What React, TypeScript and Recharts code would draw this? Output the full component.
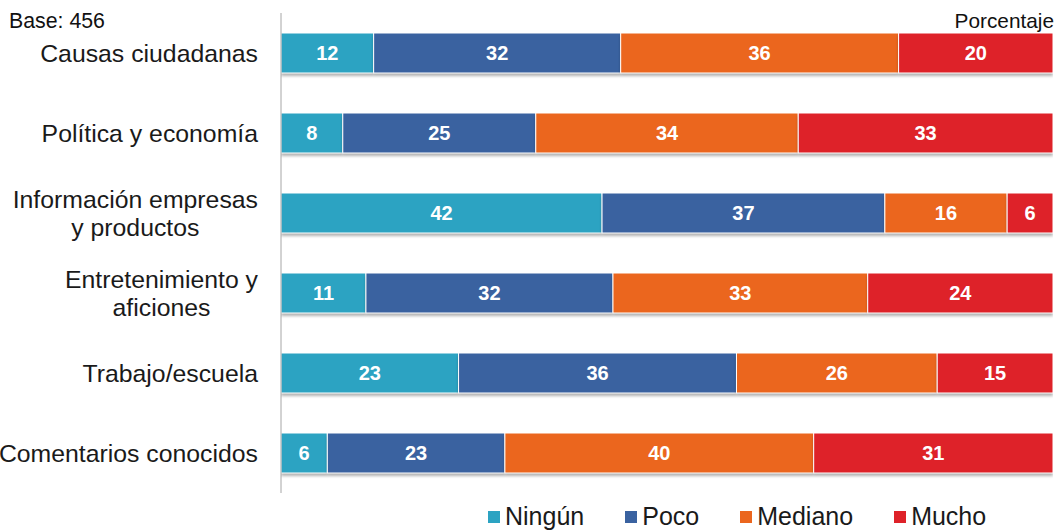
import React from 'react';
import { BarChart, Bar, XAxis, YAxis, LabelList, Legend } from 'recharts';

const categories = [
  'Causas ciudadanas',
  'Política y economía',
  'Información empresas\ny productos',
  'Entretenimiento y\naficiones',
  'Trabajo/escuela',
  'Comentarios conocidos',
];
const ningun = [12, 8, 42, 11, 23, 6];
const poco = [32, 25, 37, 32, 36, 23];
const mediano = [36, 34, 16, 33, 26, 40];
const mucho = [20, 33, 6, 24, 15, 31];

const seriesNames = ['Ningún', 'Poco', 'Mediano', 'Mucho'];
const seriesKeys = ['ningun', 'poco', 'mediano', 'mucho'];
const seriesColors = ['#2CA3C2', '#3A62A0', '#EB661E', '#DE2229'];
const seriesValues = [ningun, poco, mediano, mucho];

// Each row is scaled to 100 % for the bar length; the raw value is kept for the label.
const data = categories.map((c, i) => {
  const total = seriesValues.reduce((s, arr) => s + arr[i], 0);
  const row: Record<string, any> = { cat: c };
  seriesKeys.forEach((k, j) => {
    row[k] = (seriesValues[j][i] / total) * 100;
    row[k + 'Raw'] = seriesValues[j][i];
  });
  return row;
});

const FONT = '"Liberation Sans", Arial, Helvetica, sans-serif';
const CAT_SIZE = 24.8;

let ctx: CanvasRenderingContext2D | null = null;
const measure = (t: string) => {
  if (!ctx) ctx = document.createElement('canvas').getContext('2d');
  if (!ctx) return t.length * CAT_SIZE * 0.5;
  ctx.font = `${CAT_SIZE}px "Liberation Sans"`;
  return ctx.measureText(t).width;
};

const CatTick = (props: any) => {
  const { x, y, payload } = props;
  const lines = String(payload.value).split('\n');
  if (lines.length === 1) {
    return (
      <text x={x} y={y} dy="0.35em" textAnchor="end" fontSize={CAT_SIZE} fontFamily={FONT} fill="#1a1a1a">
        {lines[0]}
      </text>
    );
  }
  const maxW = Math.max(...lines.map((l) => measure(l)));
  const cx = x - maxW / 2;
  const lh = 28;
  return (
    <text textAnchor="middle" fontSize={CAT_SIZE} fontFamily={FONT} fill="#1a1a1a">
      {lines.map((l, i) => (
        <tspan key={i} x={cx} y={y + (i - (lines.length - 1) / 2) * lh} dy="0.35em">
          {l}
        </tspan>
      ))}
    </text>
  );
};

const BarShape = (props: any) => {
  const { x, y, width, height, fill } = props;
  if (width == null || !(width > 0)) return null;
  return (
    <g>
      <rect x={x} y={y + 3} width={width} height={height} fill="#000" opacity={0.3} filter="url(#barBlur)" />
      <rect x={x} y={y} width={width} height={height} fill={fill} stroke="#ffffff" strokeWidth={1} />
    </g>
  );
};

const LegendContent = () => (
  <div style={{ display: 'flex', alignItems: 'center', fontFamily: FONT, fontSize: 25, color: '#1a1a1a', whiteSpace: 'nowrap' }}>
    {seriesNames.map((n, i) => (
      <div key={n} style={{ display: 'flex', alignItems: 'center', marginRight: i < seriesNames.length - 1 ? 41 : 0 }}>
        <span style={{ display: 'inline-block', width: 12, height: 12, background: seriesColors[i], marginRight: 5 }} />
        <span>{n}</span>
      </div>
    ))}
  </div>
);

export default function App() {
  return (
    <div style={{ position: 'absolute', left: 0, top: 0, width: 1057, height: 531, background: '#fff' }}>
      <div style={{ position: 'absolute', left: 9, top: 9, fontFamily: FONT, fontSize: 21.3, color: '#111', lineHeight: '24px' }}>Base: 456</div>
      <div style={{ position: 'absolute', right: 3, top: 9, fontFamily: FONT, fontSize: 20.8, color: '#111', lineHeight: '24px' }}>Porcentaje</div>
      <BarChart
        width={1057}
        height={531}
        data={data}
        layout="vertical"
        barCategoryGap={20}
        margin={{ top: 13, right: 4, bottom: 38, left: 0 }}
      >
        <defs>
          <filter id="barBlur" x="-5%" y="-50%" width="110%" height="200%">
            <feGaussianBlur stdDeviation="1.5" />
          </filter>
        </defs>
        <XAxis type="number" hide domain={[0, 100]} allowDataOverflow />
        <YAxis
          type="category"
          dataKey="cat"
          width={281}
          tickLine={false}
          tickMargin={17}
          axisLine={{ stroke: '#a6a6a6', strokeWidth: 1 }}
          tick={<CatTick />}
          interval={0}
        />
        <Legend
          layout="horizontal"
          verticalAlign="middle"
          align="center"
          content={<LegendContent />}
          wrapperStyle={{ top: 502, left: 488, width: 'auto' }}
        />
        {seriesKeys.map((k, i) => (
          <Bar
            key={k}
            dataKey={k}
            name={seriesNames[i]}
            stackId="a"
            fill={seriesColors[i]}
            isAnimationActive={false}
            shape={<BarShape />}
          >
            <LabelList
              dataKey={k + 'Raw'}
              position="center"
              fill="#ffffff"
              fontSize={20}
              fontWeight="bold"
              fontFamily={FONT}
            />
          </Bar>
        ))}
      </BarChart>
    </div>
  );
}
